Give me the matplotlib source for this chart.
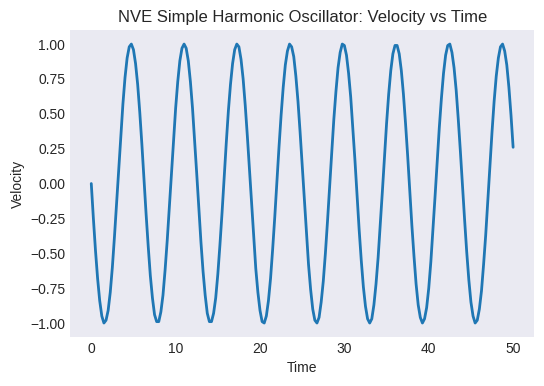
import numpy as np
import matplotlib
matplotlib.use("Agg")
import matplotlib.pyplot as plt

# === VELOCITY (every 0.25 time units, t = 0 .. 50) ===
velocity = [
    0.00, -0.25, -0.48, -0.68, -0.84, -0.95, -1.00, -0.98, -0.91, -0.78,
    -0.60, -0.38, -0.14, 0.11, 0.35, 0.57, 0.76, 0.90, 0.98, 1.00,
    0.96, 0.86, 0.71, 0.51, 0.28, 0.03,
    -0.22, -0.45, -0.66, -0.82, -0.94, -0.99, -0.99, -0.92, -0.80, -0.62,
    -0.41, -0.17, 0.08, 0.32, 0.54, 0.73, 0.88, 0.97, 1.00, 0.97,
    0.88, 0.73, 0.54, 0.31, 0.07,
    -0.18, -0.42, -0.63, -0.80, -0.93, -0.99, -0.99, -0.93, -0.82, -0.65,
    -0.44, -0.21, 0.04, 0.29, 0.52, 0.71, 0.86, 0.96, 1.00, 0.98,
    0.89, 0.75, 0.56, 0.34, 0.10,
    -0.15, -0.39, -0.61, -0.78, -0.91, -0.99, -1.00, -0.95, -0.84, -0.68,
    -0.47, -0.24, 0.01, 0.26, 0.49, 0.69, 0.85, 0.95, 1.00, 0.98,
    0.91, 0.77, 0.59, 0.37, 0.13,
    -0.12, -0.36, -0.58, -0.76, -0.90, -0.98, -1.00, -0.96, -0.85, -0.70,
    -0.50, -0.27, -0.02, 0.22, 0.46, 0.66, 0.83, 0.94, 1.00, 0.99,
    0.92, 0.79, 0.62, 0.40, 0.17,
    -0.08, -0.33, -0.55, -0.74, -0.88, -0.97, -1.00, -0.97, -0.87, -0.72,
    -0.53, -0.30, -0.06, 0.19, 0.43, 0.64, 0.81, 0.93, 0.99, 0.99,
    0.93, 0.81, 0.64, 0.43, 0.20,
    -0.05, -0.30, -0.52, -0.72, -0.87, -0.96, -1.00, -0.97, -0.89, -0.75,
    -0.56, -0.33, -0.09, 0.16, 0.40, 0.61, 0.79, 0.92, 0.99, 1.00,
    0.94, 0.83, 0.67, 0.46, 0.23,
    -0.02, -0.26, -0.49, -0.69, -0.85, -0.95, -1.00, -0.98, -0.90, -0.77,
    -0.58, -0.37, -0.12, 0.13, 0.37, 0.59, 0.77, 0.90, 0.98, 1.00,
    0.95, 0.85, 0.69, 0.49, 0.26,
]
t_start, t_end = 0.0, 50.0
time = np.linspace(t_start, t_end, len(velocity))

# === STYLE ===
plt.style.use("seaborn-v0_8-dark")
plt.rcParams["font.family"] = ["Liberation Sans", "DejaVu Sans"]

fig, ax = plt.subplots(figsize=(5.44, 3.86), dpi=100)
fig.subplots_adjust(left=0.129, right=0.982, top=0.922, bottom=0.127)

ax.plot(time, velocity, color="#1f77b4", linewidth=2)
ax.set_title("NVE Simple Harmonic Oscillator: Velocity vs Time", fontsize=12)
ax.set_xlabel("Time")
ax.set_ylabel("Velocity")
ax.grid(False)

fig.savefig("out.png", dpi=100)
